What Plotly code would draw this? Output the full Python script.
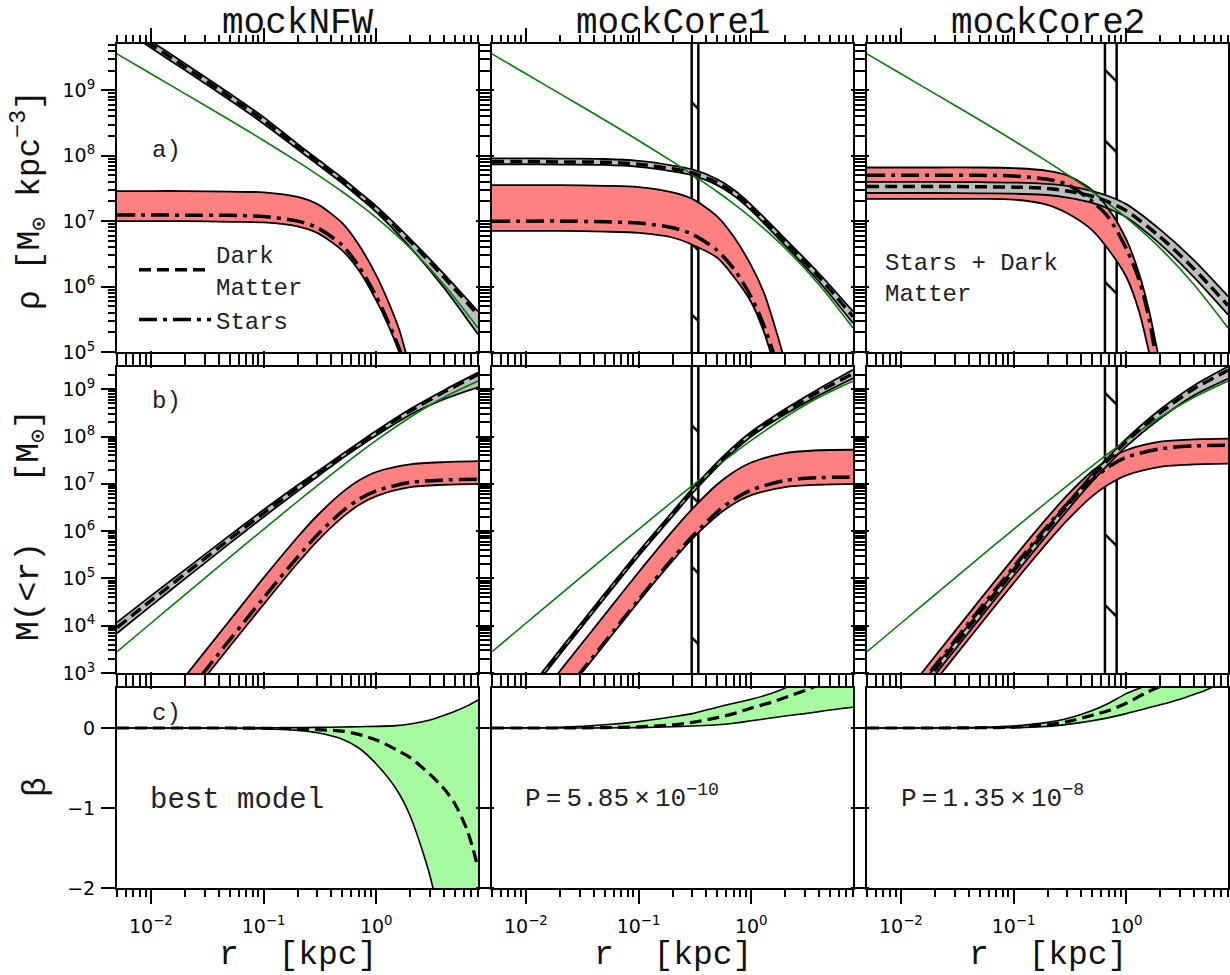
import numpy as np
import plotly.graph_objects as go

# ---------------- data (log10 values) ----------------
r_dm = [0.005, 0.01, 0.02, 0.05, 0.1, 0.2, 0.3, 0.5, 0.7, 1.0, 2.0, 4.0, 8.0]
r_st = [0.005, 0.01, 0.02, 0.05, 0.1, 0.2, 0.3, 0.5, 0.7, 1.0, 1.3, 1.6, 2.0, 2.5]
r_beta = [0.005, 0.01, 0.02, 0.05, 0.1, 0.2, 0.3, 0.5, 0.7, 1.0, 1.5, 2.0, 3.0, 4.0, 5.0, 6.5, 8.0]

# true (green) profile, same in all columns
true_rho = [9.556, 9.253, 8.950, 8.545, 8.233, 7.910, 7.712, 7.449, 7.264, 7.053, 6.587, 6.029, 5.368]
true_mass = [3.451, 4.052, 4.653, 5.444, 6.039, 6.626, 6.964, 7.380, 7.646, 7.917, 8.407, 8.829, 9.173]

# mockNFW
nfw_dm_rho_med = [10.05, 9.70, 9.36, 8.90, 8.54, 8.14, 7.91, 7.62, 7.41, 7.19, 6.69, 6.14, 5.57]
nfw_dm_rho_hi = [10.10, 9.75, 9.41, 8.95, 8.59, 8.18, 7.95, 7.66, 7.45, 7.23, 6.73, 6.19, 5.62]
nfw_dm_rho_lo = [10.00, 9.65, 9.31, 8.85, 8.49, 8.10, 7.87, 7.58, 7.37, 7.14, 6.60, 5.98, 5.27]
nfw_st_rho_hi = [7.46, 7.46, 7.46, 7.45, 7.44, 7.37, 7.26, 6.97, 6.64, 6.17, 5.74, 5.34, 4.75, 4.20]
nfw_st_rho_med = [7.095, 7.095, 7.09, 7.09, 7.07, 7.00, 6.90, 6.63, 6.31, 5.85, 5.43, 5.05, 4.60, 4.10]
nfw_st_rho_lo = [7.00, 7.00, 7.00, 6.99, 6.98, 6.92, 6.82, 6.55, 6.25, 5.79, 5.38, 5.00, 4.55, 4.10]
nfw_dm_m_med = [3.96, 4.53, 5.09, 5.83, 6.38, 6.91, 7.21, 7.59, 7.83, 8.08, 8.54, 8.94, 9.31]
nfw_dm_m_hi = [4.07, 4.63, 5.18, 5.91, 6.45, 6.97, 7.26, 7.63, 7.87, 8.12, 8.58, 8.98, 9.35]
nfw_dm_m_lo = [3.84, 4.42, 4.99, 5.74, 6.30, 6.84, 7.15, 7.54, 7.78, 8.02, 8.46, 8.79, 9.04]
nfw_st_m_hi = [1.12, 2.02, 2.92, 4.11, 5.01, 5.87, 6.33, 6.82, 7.07, 7.25, 7.41, 7.46, 7.48]
nfw_st_m_med = [0.70, 1.60, 2.51, 3.70, 4.59, 5.45, 5.92, 6.42, 6.67, 6.85, 7.03, 7.08, 7.095]
nfw_st_m_lo = [0.57, 1.47, 2.37, 3.56, 4.45, 5.32, 5.79, 6.29, 6.55, 6.74, 6.93, 6.98, 7.00]
nfw_beta_hi = [0, 0, 0, 0, 0.002, 0.005, 0.008, 0.012, 0.016, 0.02, 0.03, 0.05, 0.10, 0.16, 0.21, 0.28, 0.35]
nfw_beta_med = [0, 0, 0, 0, -0.003, -0.01, -0.02, -0.04, -0.08, -0.15, -0.27, -0.37, -0.58, -0.76, -0.95, -1.30, -1.75]
nfw_beta_lo = [0, 0, 0, -0.003, -0.01, -0.03, -0.06, -0.14, -0.25, -0.45, -0.76, -1.10, -1.85, -2.70, -3.60, -5.00, -6.50]

# mockCore1
c1_dm_rho_med = [7.91, 7.91, 7.905, 7.90, 7.87, 7.80, 7.74, 7.59, 7.43, 7.20, 6.68, 6.145, 5.54]
c1_dm_rho_hi = [7.96, 7.96, 7.955, 7.95, 7.92, 7.85, 7.79, 7.64, 7.48, 7.25, 6.73, 6.20, 5.62]
c1_dm_rho_lo = [7.87, 7.87, 7.865, 7.86, 7.83, 7.76, 7.70, 7.55, 7.39, 7.16, 6.63, 6.075, 5.44]
c1_st_rho_hi = [7.55, 7.55, 7.55, 7.54, 7.52, 7.44, 7.34, 7.07, 6.76, 6.32, 5.90, 5.42, 4.85, 4.30]
c1_st_rho_med = [7.00, 7.00, 7.00, 6.99, 6.97, 6.90, 6.80, 6.55, 6.27, 5.84, 5.40, 4.95, 4.40, 3.90]
c1_st_rho_lo = [6.85, 6.85, 6.85, 6.84, 6.82, 6.75, 6.64, 6.44, 6.15, 5.76, 5.30, 4.80, 4.20, 3.70]
c1_dm_m_med = [1.63, 2.53, 3.44, 4.63, 5.52, 6.36, 6.85, 7.41, 7.74, 8.05, 8.53, 8.95, 9.33]
c1_dm_m_hi = [1.68, 2.58, 3.49, 4.68, 5.57, 6.41, 6.90, 7.46, 7.79, 8.10, 8.58, 9.01, 9.41]
c1_dm_m_lo = [1.58, 2.48, 3.39, 4.58, 5.47, 6.31, 6.80, 7.36, 7.69, 8.00, 8.47, 8.87, 9.23]
c1_st_m_hi = [1.24, 2.14, 3.04, 4.23, 5.13, 6.00, 6.47, 6.99, 7.25, 7.45, 7.65, 7.71, 7.72]
c1_st_m_med = [0.66, 1.56, 2.46, 3.65, 4.55, 5.42, 5.89, 6.41, 6.67, 6.87, 7.07, 7.13, 7.14]
c1_st_m_lo = [0.62, 1.52, 2.42, 3.61, 4.51, 5.37, 5.84, 6.33, 6.58, 6.76, 6.93, 6.98, 7.00]
c1_beta_hi = [0, 0.003, 0.01, 0.04, 0.08, 0.14, 0.18, 0.26, 0.31, 0.36, 0.43, 0.50, 0.62, 0.72, 0.80, 0.90, 1.00]
c1_beta_med = [0, 0, 0, 0.005, 0.015, 0.04, 0.07, 0.13, 0.18, 0.25, 0.32, 0.38, 0.47, 0.54, 0.60, 0.68, 0.76]
c1_beta_lo = [0, 0, 0, 0.002, 0.005, 0.015, 0.025, 0.04, 0.06, 0.09, 0.125, 0.15, 0.18, 0.205, 0.225, 0.245, 0.26]
c1_core = [0.296, 0.339]

# mockCore2
c2_dm_rho_med = [7.53, 7.53, 7.53, 7.525, 7.52, 7.50, 7.46, 7.38, 7.29, 7.16, 6.76, 6.27, 5.71]
c2_dm_rho_hi = [7.60, 7.60, 7.60, 7.595, 7.59, 7.57, 7.54, 7.46, 7.38, 7.26, 6.87, 6.40, 5.85]
c2_dm_rho_lo = [7.43, 7.43, 7.43, 7.425, 7.42, 7.40, 7.36, 7.28, 7.19, 7.06, 6.65, 6.14, 5.57]
c2_st_rho_hi = [7.82, 7.82, 7.82, 7.82, 7.81, 7.77, 7.70, 7.47, 7.18, 6.72, 6.20, 5.62, 4.80, 4.00]
c2_st_rho_med = [7.70, 7.70, 7.70, 7.70, 7.69, 7.64, 7.56, 7.30, 7.05, 6.58, 6.10, 5.50, 4.50, 3.70]
c2_st_rho_lo = [7.34, 7.34, 7.34, 7.34, 7.33, 7.25, 7.12, 6.86, 6.56, 6.15, 5.62, 4.98, 4.20, 3.40]
c2_dm_m_med = [1.25, 2.15, 3.06, 4.25, 5.15, 6.03, 6.54, 7.15, 7.52, 7.89, 8.50, 9.01, 9.40]
c2_dm_m_hi = [1.31, 2.21, 3.12, 4.31, 5.21, 6.09, 6.60, 7.21, 7.58, 7.95, 8.57, 9.08, 9.48]
c2_dm_m_lo = [1.15, 2.05, 2.96, 4.15, 5.05, 5.93, 6.44, 7.05, 7.42, 7.79, 8.38, 8.87, 9.22]
c2_st_m_hi = [1.54, 2.44, 3.35, 4.54, 5.43, 6.29, 6.76, 7.27, 7.52, 7.71, 7.89, 7.94, 7.955]
c2_st_m_med = [1.35, 2.25, 3.15, 4.35, 5.24, 6.11, 6.58, 7.09, 7.36, 7.56, 7.74, 7.80, 7.815]
c2_st_m_lo = [1.01, 1.91, 2.82, 4.01, 4.90, 5.76, 6.23, 6.74, 6.99, 7.18, 7.36, 7.41, 7.425]
c2_beta_hi = [0, 0, 0.002, 0.008, 0.025, 0.07, 0.12, 0.22, 0.31, 0.43, 0.53, 0.61, 0.72, 0.82, 0.92, 1.02, 1.12]
c2_beta_med = [0, 0, 0, 0.003, 0.01, 0.04, 0.08, 0.16, 0.22, 0.31, 0.44, 0.52, 0.62, 0.70, 0.77, 0.87, 0.97]
c2_beta_lo = [0, 0, 0, 0.002, 0.005, 0.02, 0.045, 0.09, 0.13, 0.18, 0.245, 0.29, 0.36, 0.42, 0.47, 0.54, 0.60]
c2_core = [0.647, 0.822]

titles = ["mockNFW", "mockCore1", "mockCore2"]
x_range = [0.005, 8.0]
rho_range = [1e5, 5.1e9]
mass_range = [1e3, 2.95e9]
beta_range = [-2.0, 0.5]
x_ticks = [0.01, 0.1, 1.0]
x_ticktext = ["10<sup>\u22122</sup>", "10<sup>\u22121</sup>", "10<sup>0</sup>"]
rho_ticks = [1e5, 1e6, 1e7, 1e8, 1e9]
mass_ticks = [1e3, 1e4, 1e5, 1e6, 1e7, 1e8, 1e9]
beta_ticks = [-2, -1, 0]
beta_ticktext = ["\u22122", "\u22121", "0"]

# ---------------- styling ----------------
W, H = 1230, 975
MONO = "Liberation Mono, Courier New, monospace"
TICKF = "DejaVu Sans"
RED = "#ff8080"
GRAY = "#bebebe"
LGREEN = "#a6fba0"
DASH = "12px,6px"
DASHDOT = "18px,6px,4px,6px"

xdom = [[117 / W, 478 / W], [492 / W, 853 / W], [867 / W, 1228 / W]]
ydom = [[1 - 352 / H, 1 - 44 / H], [1 - 673 / H, 1 - 367 / H], [1 - 888 / H, 1 - 688 / H]]

fig = go.Figure()


def axn(row, col):
    k = row * 3 + col + 1
    return ("x" if k == 1 else f"x{k}"), ("y" if k == 1 else f"y{k}")


def tolin(v, log):
    return [10 ** a for a in v] if log else list(v)


def band(row, col, r, lo, hi, color, log=True):
    xa, ya = axn(row, col)
    fig.add_trace(go.Scatter(x=r, y=tolin(lo, log), mode="lines",
                             line=dict(width=0, shape="spline", smoothing=0.8),
                             xaxis=xa, yaxis=ya, showlegend=False, hoverinfo="skip"))
    fig.add_trace(go.Scatter(x=r, y=tolin(hi, log), mode="lines",
                             line=dict(width=0, shape="spline", smoothing=0.8),
                             fill="tonexty", fillcolor=color,
                             xaxis=xa, yaxis=ya, showlegend=False, hoverinfo="skip"))


def curve(row, col, r, v, color="black", width=2.0, dash="solid", log=True):
    xa, ya = axn(row, col)
    fig.add_trace(go.Scatter(x=r, y=tolin(v, log), mode="lines",
                             line=dict(color=color, width=width, dash=dash, shape="spline", smoothing=0.8),
                             xaxis=xa, yaxis=ya, showlegend=False, hoverinfo="skip"))


def core_band(row, col, core, yr):
    xa, ya = axn(row, col)
    lo, hi = yr[0] / 100.0, yr[1] * 100.0
    fig.add_trace(go.Scatter(x=[core[0], core[1], core[1], core[0], core[0]],
                             y=[lo, lo, hi, hi, lo], mode="lines", fill="toself",
                             fillcolor="white",
                             fillpattern=dict(shape="\\", size=50, solidity=0.05, fgopacity=1,
                                              fgcolor="black", bgcolor="white"),
                             line=dict(color="black", width=2.5),
                             xaxis=xa, yaxis=ya, showlegend=False, hoverinfo="skip"))


models = [
    dict(dm_rho=(nfw_dm_rho_lo, nfw_dm_rho_med, nfw_dm_rho_hi),
         st_rho=(nfw_st_rho_lo, nfw_st_rho_med, nfw_st_rho_hi),
         dm_m=(nfw_dm_m_lo, nfw_dm_m_med, nfw_dm_m_hi),
         st_m=(nfw_st_m_lo, nfw_st_m_med, nfw_st_m_hi),
         beta=(nfw_beta_lo, nfw_beta_med, nfw_beta_hi), core=None),
    dict(dm_rho=(c1_dm_rho_lo, c1_dm_rho_med, c1_dm_rho_hi),
         st_rho=(c1_st_rho_lo, c1_st_rho_med, c1_st_rho_hi),
         dm_m=(c1_dm_m_lo, c1_dm_m_med, c1_dm_m_hi),
         st_m=(c1_st_m_lo, c1_st_m_med, c1_st_m_hi),
         beta=(c1_beta_lo, c1_beta_med, c1_beta_hi), core=c1_core),
    dict(dm_rho=(c2_dm_rho_lo, c2_dm_rho_med, c2_dm_rho_hi),
         st_rho=(c2_st_rho_lo, c2_st_rho_med, c2_st_rho_hi),
         dm_m=(c2_dm_m_lo, c2_dm_m_med, c2_dm_m_hi),
         st_m=(c2_st_m_lo, c2_st_m_med, c2_st_m_hi),
         beta=(c2_beta_lo, c2_beta_med, c2_beta_hi), core=c2_core),
]

# legend entries (first so that they lead the legend)
fig.add_trace(go.Scatter(x=[None], y=[None], mode="lines", name="Dark<br>Matter",
                         line=dict(color="black", width=3.5, dash=DASH), xaxis="x", yaxis="y"))
fig.add_trace(go.Scatter(x=[None], y=[None], mode="lines", name="Stars",
                         line=dict(color="black", width=3.5, dash=DASHDOT), xaxis="x", yaxis="y"))

for col, m in enumerate(models):
    for row, (dmk, stk, truth, yr) in enumerate([("dm_rho", "st_rho", true_rho, rho_range),
                                                  ("dm_m", "st_m", true_mass, mass_range)]):
        if m["core"] is not None:
            core_band(row, col, m["core"], yr)
        rs = r_st if row == 0 else r_dm
        slo, smed, shi = m[stk]
        dlo, dmed, dhi = m[dmk]
        band(row, col, rs, slo, shi, RED)
        band(row, col, r_dm, dlo, dhi, GRAY)
        curve(row, col, rs, slo, width=1.8)
        curve(row, col, rs, shi, width=1.8)
        curve(row, col, r_dm, dlo, width=1.8)
        curve(row, col, r_dm, dhi, width=1.8)
        curve(row, col, r_dm, truth, color="green", width=1.6)
        curve(row, col, rs, smed, width=3.5, dash=DASHDOT)
        curve(row, col, r_dm, dmed, width=3.5, dash=DASH)
    blo, bmed, bhi = m["beta"]
    band(2, col, r_beta, blo, bhi, LGREEN, log=False)
    curve(2, col, r_beta, blo, width=1.6, log=False)
    curve(2, col, r_beta, bhi, width=1.6, log=False)
    curve(2, col, r_beta, bmed, width=3.2, dash=DASH, log=False)

# ---------------- axes ----------------
x_minor = [k * 10.0 ** d for d in range(-3, 1) for k in range(2, 10)]
rho_minor = [k * 10.0 ** d for d in range(4, 10) for k in range(2, 10)]
mass_minor = [k * 10.0 ** d for d in range(2, 10) for k in range(2, 10)]

tickfont = dict(family=TICKF, size=19, color="black")
layout_axes = {}
for row in range(3):
    for col in range(3):
        k = row * 3 + col + 1
        xa, ya = axn(row, col)
        xname = "xaxis" if k == 1 else f"xaxis{k}"
        yname = "yaxis" if k == 1 else f"yaxis{k}"
        layout_axes[xname] = dict(
            domain=xdom[col], anchor=ya, type="log", automargin=False,
            range=[np.log10(x_range[0]), np.log10(x_range[1])],
            showline=True, linecolor="black", linewidth=2, mirror="allticks",
            ticks="outside", ticklen=14, tickwidth=2, tickcolor="black",
            tickmode="array", tickvals=x_ticks, ticktext=x_ticktext,
            showticklabels=(row == 2), tickfont=tickfont, ticklabelstandoff=6,
            minor=dict(tickmode="array", tickvals=x_minor, ticks="outside", ticklen=7,
                       tickwidth=1.5, tickcolor="black", showgrid=False),
            showgrid=False, zeroline=False, fixedrange=True)
        ydict = dict(domain=ydom[row], anchor=xa, showline=True, linecolor="black", linewidth=2,
                     mirror="allticks", ticks="outside", ticklen=14, tickwidth=2, tickcolor="black",
                     showticklabels=(col == 0), tickfont=tickfont, showgrid=False, zeroline=False,
                     fixedrange=True, tickmode="array", automargin=False, ticklabelstandoff=2)
        if row == 0:
            ydict.update(type="log", range=[np.log10(rho_range[0]), np.log10(rho_range[1])],
                         tickvals=rho_ticks,
                         ticktext=[f"10<sup>{int(np.log10(t))}</sup>" for t in rho_ticks],
                         minor=dict(tickmode="array", tickvals=rho_minor, ticks="outside", ticklen=7,
                                    tickwidth=1.5, tickcolor="black", showgrid=False))
        elif row == 1:
            ydict.update(type="log", range=[np.log10(mass_range[0]), np.log10(mass_range[1])],
                         tickvals=mass_ticks,
                         ticktext=[f"10<sup>{int(np.log10(t))}</sup>" for t in mass_ticks],
                         minor=dict(tickmode="array", tickvals=mass_minor, ticks="outside", ticklen=7,
                                    tickwidth=1.5, tickcolor="black", showgrid=False))
        else:
            ydict.update(type="linear", range=beta_range, tickvals=beta_ticks, ticktext=beta_ticktext)
        layout_axes[yname] = ydict

fig.update_layout(**layout_axes)

# ---------------- text ----------------
ann = []
colc = [(xdom[c][0] + xdom[c][1]) / 2 for c in range(3)]
for c, t in enumerate(titles):
    ann.append(dict(text=t, x=colc[c], y=1 - 24 / H, xref="paper", yref="paper",
                    showarrow=False, font=dict(family=MONO, size=36, color="#111"),
                    xanchor="center", yanchor="middle"))
    ann.append(dict(text="r\u00a0\u00a0[kpc]", x=colc[c], y=1 - 955 / H, xref="paper", yref="paper",
                    showarrow=False, font=dict(family=MONO, size=33, color="#111"),
                    xanchor="center", yanchor="middle"))
ylabels = [("\u03c1\u00a0[M<sub>\u2299</sub>\u00a0kpc<sup>\u22123</sup>]", 30, 200),
           ("M(<r)\u00a0\u00a0\u00a0[M<sub>\u2299</sub>]", 31, 525),
           ("\u03b2", 36, 787)]
for t, xp, yp in ylabels:
    ann.append(dict(text=t, x=xp / W, y=1 - yp / H, xref="paper", yref="paper", textangle=-90,
                    showarrow=False, font=dict(family=MONO, size=33, color="#111"),
                    xanchor="center", yanchor="middle"))
for t, yp in [("a)", 150), ("b)", 402), ("c)", 713)]:
    ann.append(dict(text=t, x=150 / W, y=1 - yp / H, xref="paper", yref="paper", showarrow=False,
                    font=dict(family=MONO, size=24, color="#222"), xanchor="left", yanchor="middle"))
ann.append(dict(text="Stars + Dark<br>Matter", x=883 / W, y=1 - 279 / H, xref="paper", yref="paper",
                showarrow=False, align="left", font=dict(family=MONO, size=24, color="#222"),
                xanchor="left", yanchor="middle"))
ann.append(dict(text="best model", x=148 / W, y=1 - 800 / H, xref="paper", yref="paper",
                showarrow=False, font=dict(family=MONO, size=29, color="#222"),
                xanchor="left", yanchor="middle"))
for xp, t in [(523, "P\u2009=\u20095.85\u2009\u00d7\u200910<sup>\u221210</sup>"),
              (899, "P\u2009=\u20091.35\u2009\u00d7\u200910<sup>\u22128</sup>")]:
    ann.append(dict(text=t, x=xp / W, y=1 - 797 / H, xref="paper", yref="paper", showarrow=False,
                    font=dict(family=MONO, size=26, color="#222"), xanchor="left", yanchor="middle"))

fig.update_layout(
    annotations=ann,
    width=W, height=H, autosize=False, margin=dict(l=0, r=0, t=0, b=0, pad=0),
    paper_bgcolor="white", plot_bgcolor="white",
    showlegend=True,
    legend=dict(x=134 / W, y=1 - 232 / H, xanchor="left", yanchor="top", traceorder="normal",
                bgcolor="rgba(0,0,0,0)", font=dict(family=MONO, size=24, color="#222"),
                itemwidth=72, tracegroupgap=0),
)

fig.write_html("out.html")
